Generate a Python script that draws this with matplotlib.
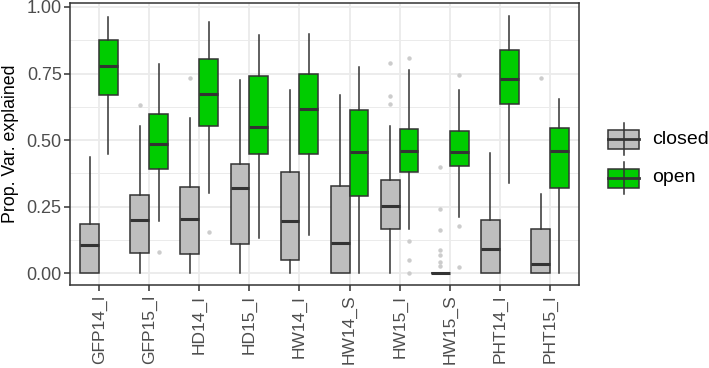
import matplotlib
matplotlib.use("Agg")
import matplotlib.pyplot as plt
from matplotlib.patches import Rectangle
from matplotlib.ticker import MultipleLocator

plt.rcParams['font.family'] = ['Liberation Sans', 'DejaVu Sans']

categories = ['GFP14_I', 'GFP15_I', 'HD14_I', 'HD15_I', 'HW14_I',
              'HW14_S', 'HW15_I', 'HW15_S', 'PHT14_I', 'PHT15_I']

# box stats per category: (lower whisker, q1, median, q3, upper whisker)
closed_stats = [
    (0.0, 0.0, 0.107, 0.185, 0.436),
    (0.0, 0.076, 0.198, 0.294, 0.551),
    (0.0, 0.070, 0.202, 0.325, 0.584),
    (0.0, 0.110, 0.321, 0.409, 0.727),
    (0.0, 0.050, 0.194, 0.381, 0.689),
    (0.0, 0.0, 0.112, 0.328, 0.670),
    (0.0, 0.164, 0.252, 0.348, 0.551),
    (0.0, 0.0, 0.0, 0.0, 0.0),
    (0.0, 0.0, 0.091, 0.198, 0.452),
    (0.0, 0.0, 0.035, 0.165, 0.298),
]
open_stats = [
    (0.446, 0.668, 0.777, 0.876, 0.962),
    (0.195, 0.392, 0.486, 0.599, 0.784),
    (0.301, 0.551, 0.674, 0.803, 0.945),
    (0.132, 0.447, 0.550, 0.742, 0.895),
    (0.144, 0.446, 0.615, 0.748, 0.900),
    (0.0, 0.288, 0.456, 0.612, 0.774),
    (0.167, 0.378, 0.459, 0.541, 0.764),
    (0.211, 0.402, 0.456, 0.534, 0.689),
    (0.340, 0.634, 0.729, 0.840, 0.966),
    (0.0, 0.320, 0.459, 0.545, 0.653),
]
closed_outliers = [
    [], [0.630], [0.733], [], [], [],
    [0.789, 0.665, 0.635],
    [0.398, 0.241, 0.160, 0.088, 0.066, 0.040, 0.025],
    [], [0.733],
]
open_outliers = [
    [], [0.079], [0.155], [], [], [],
    [0.808, 0.122, 0.050, 0.0],
    [0.743, 0.175, 0.023],
    [], [],
]

groups = ['closed', 'open']
fills = ['#BEBEBE', '#00CC00']
edge = '#333333'

fig = plt.figure(figsize=(7.09, 3.68), dpi=100)
ax = fig.add_axes([70 / 709, 1 - 285 / 368, 509 / 709, 282 / 368])


def to_bxp(stats, outs):
    res = []
    for (lo, q1, med, q3, hi), fl in zip(stats, outs):
        res.append(dict(whislo=lo, q1=q1, med=med, q3=q3, whishi=hi, fliers=fl))
    return res


width = 0.375
for k, (stats, outs) in enumerate([(closed_stats, closed_outliers),
                                   (open_stats, open_outliers)]):
    pos = [i + (k - 0.5) * width for i in range(len(categories))]
    ax.bxp(to_bxp(stats, outs), positions=pos, widths=width,
           patch_artist=True, showcaps=False, showfliers=True,
           boxprops=dict(facecolor=fills[k], edgecolor=edge, linewidth=1.1),
           medianprops=dict(color=edge, linewidth=2.2, solid_capstyle='butt'),
           whiskerprops=dict(color=edge, linewidth=1.1),
           flierprops=dict(marker='o', markersize=3.2, markerfacecolor='#CCCCCC',
                           markeredgecolor='none'),
           zorder=3)

ax.set_xlim(-0.58, 9.58)
ax.set_ylim(-0.045, 1.015)
ax.set_xticks(range(len(categories)))
ax.set_xticklabels(categories, rotation=90)
ax.yaxis.set_minor_locator(MultipleLocator(0.125))
ax.set_yticks([0, 0.25, 0.5, 0.75, 1.0])
ax.set_yticklabels(['0.00', '0.25', '0.50', '0.75', '1.00'])
ax.grid(True, which='major', color='#EBEBEB', linewidth=1.3, zorder=0)
ax.grid(True, which='minor', axis='y', color='#EBEBEB', linewidth=0.7, zorder=0)
ax.set_axisbelow(True)
ax.tick_params(axis='both', which='major', length=4, width=1.1, color='#333333',
               labelsize=13, labelcolor='#4D4D4D', pad=2)
ax.tick_params(axis='x', which='major', labelsize=12.5, pad=3)
ax.tick_params(axis='y', which='minor', length=0)
for s in ax.spines.values():
    s.set_color('#333333')
    s.set_linewidth(1.1)
ax.set_ylabel('Prop. Var. explained', fontsize=12.8, labelpad=5)

# legend drawn in pixel space to the right of the panel
lax = fig.add_axes([0, 0, 1, 1])
lax.set_xlim(0, 709)
lax.set_ylim(368, 0)
lax.axis('off')
for k, (name, yc) in enumerate(zip(groups, [139, 178])):
    lax.plot([623.5, 623.5], [yc - 16, yc + 16], color=edge, lw=1.1)
    lax.add_patch(Rectangle((608, yc - 9.5), 31, 19, facecolor=fills[k],
                            edgecolor=edge, lw=1.1))
    lax.plot([608, 639], [yc, yc], color=edge, lw=2.0)
    lax.text(652, yc, name, fontsize=14, va='center', ha='left')

fig.savefig('out.png', dpi=100)
